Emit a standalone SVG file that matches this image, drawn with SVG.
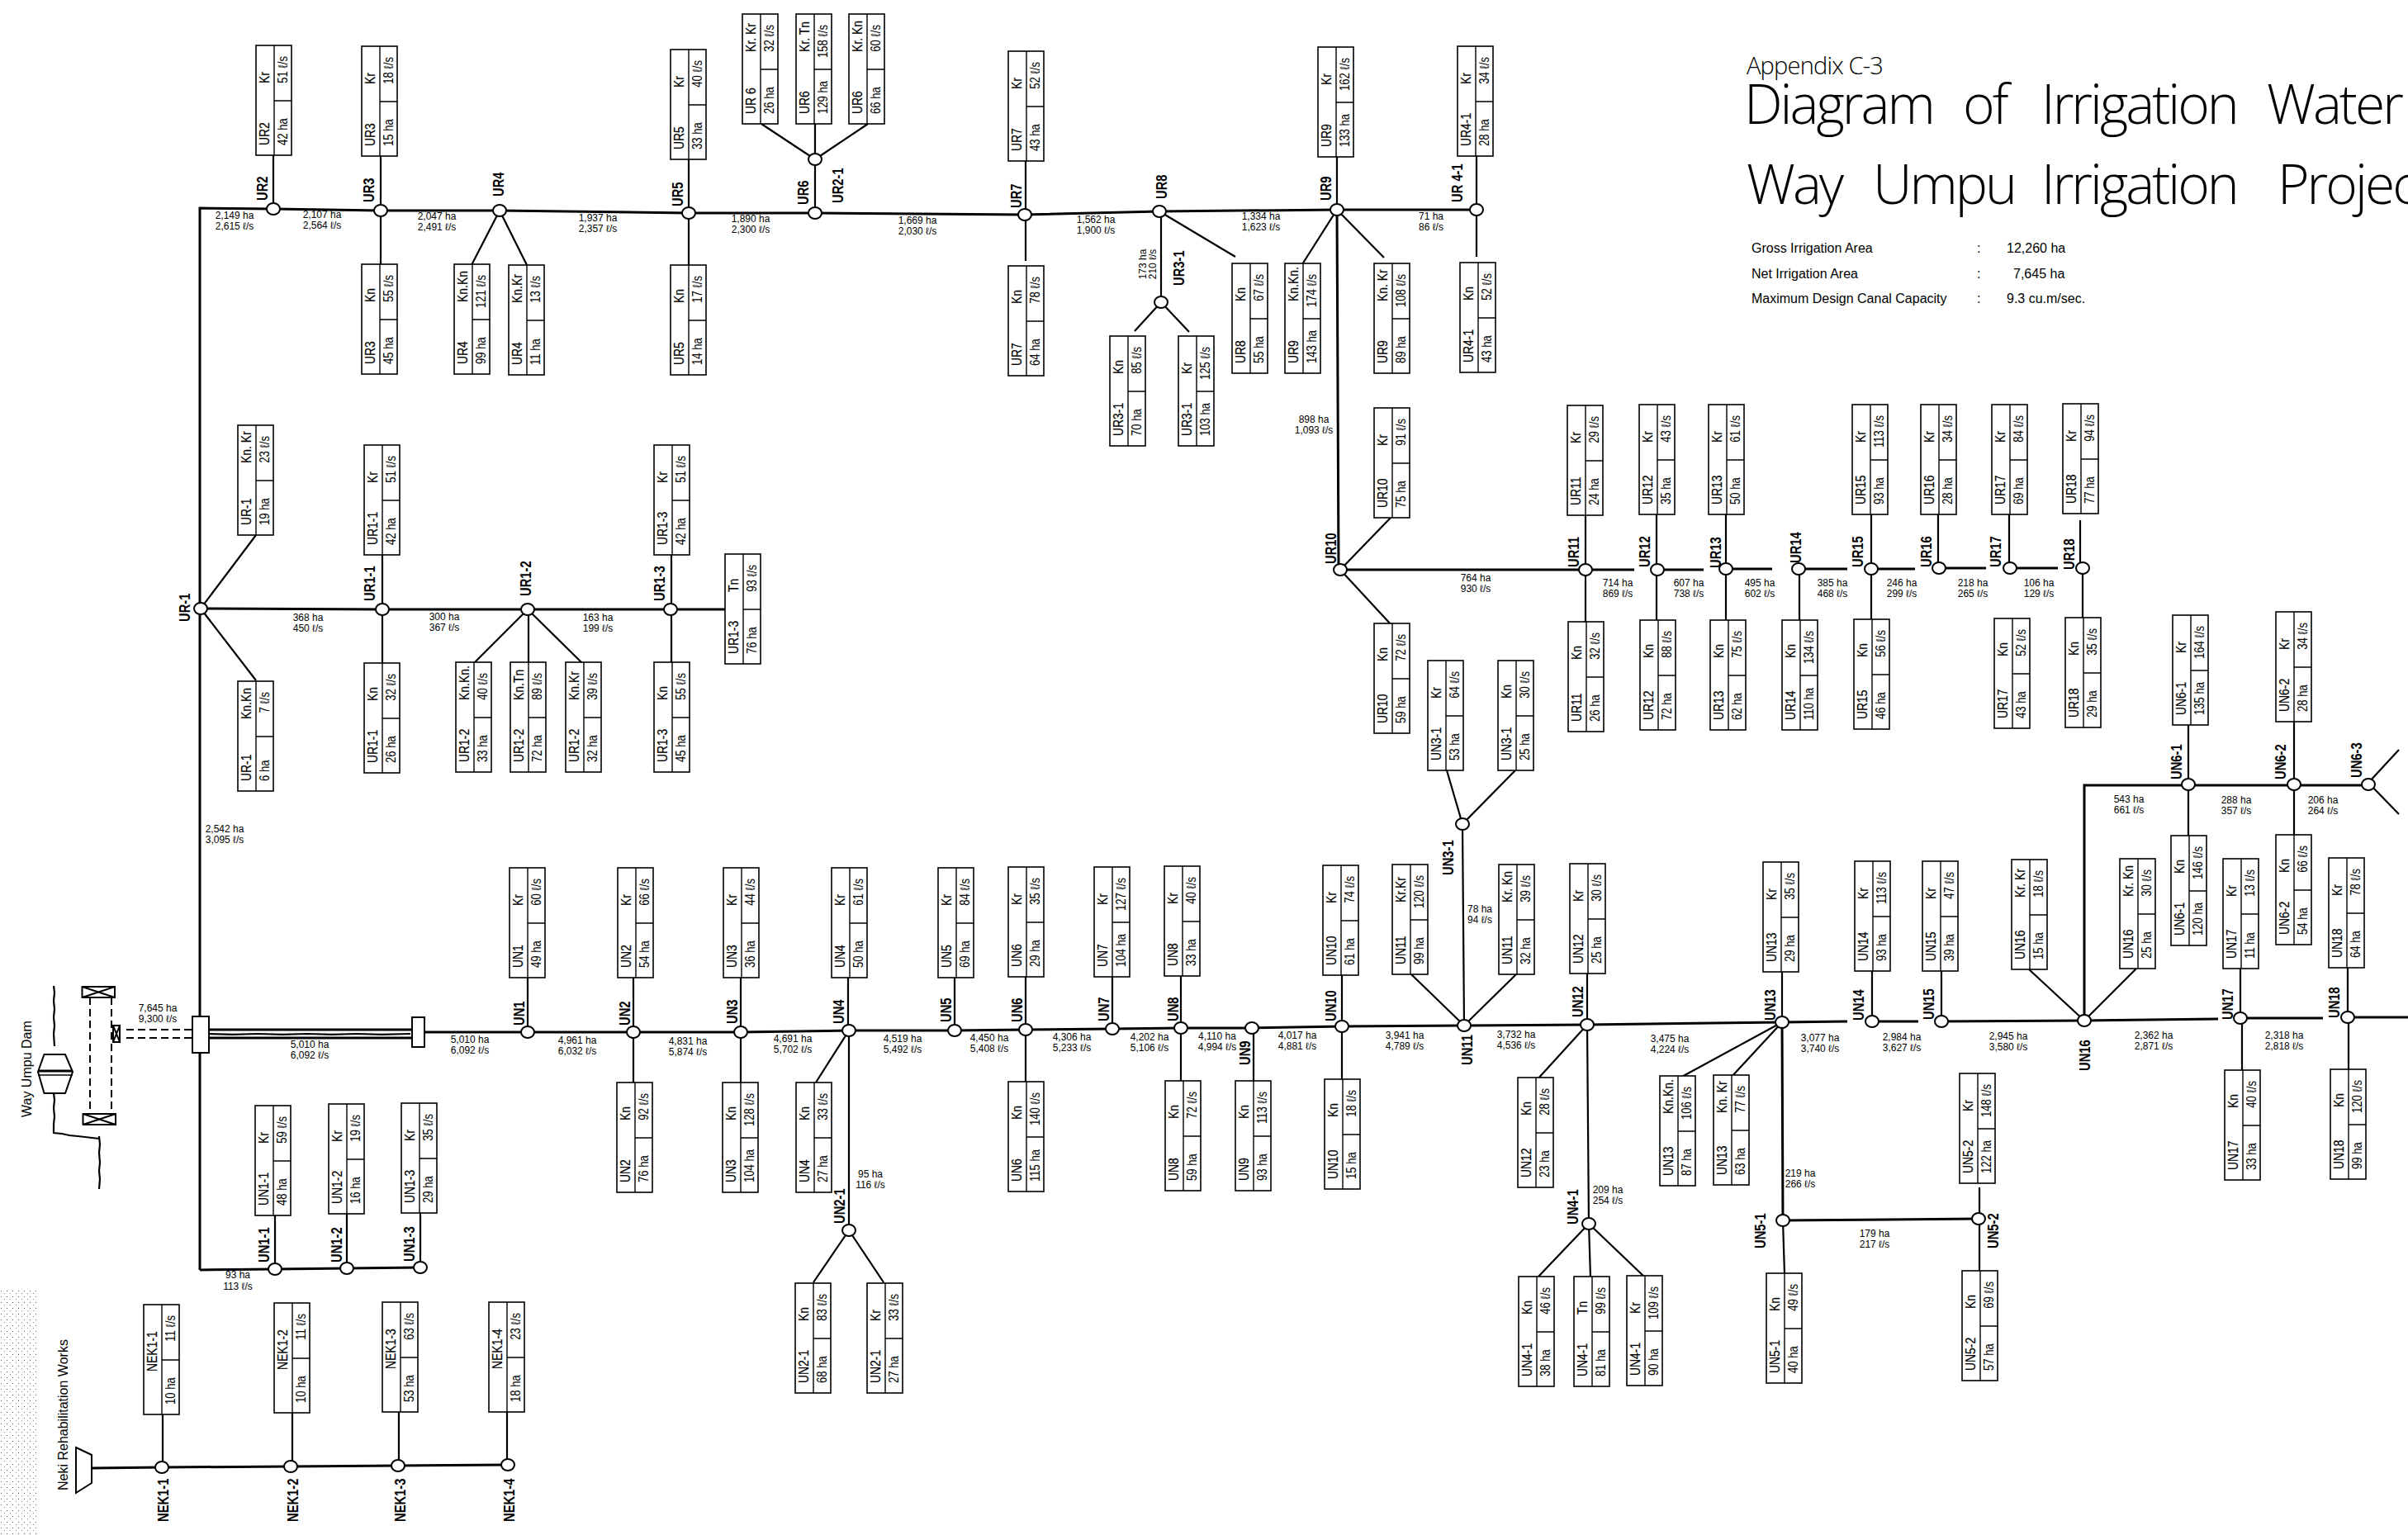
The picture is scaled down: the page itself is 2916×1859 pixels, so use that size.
<svg xmlns="http://www.w3.org/2000/svg" width="2916" height="1859" viewBox="0 0 2916 1859">
<style>
text{font-family:"Liberation Sans",Arial,sans-serif;fill:#000}
.i,.t,.a,.f{transform-box:fill-box;transform:scale(.82,1);transform-origin:0 100%}
.i{font-size:17px;stroke:#000;stroke-width:.2}
.t{font-size:17px;stroke:#000;stroke-width:.2}
.a{font-size:16px}
.f{font-size:16px;text-anchor:end;transform-origin:100% 100%}
.n{font-size:18px;font-weight:700}
.q{font-size:12px;text-anchor:middle}
.s{font-size:16px}
.h{font-family:"Open Sans","Liberation Sans",sans-serif;font-weight:300;letter-spacing:-3px}
.box{fill:#fff;stroke:#000;stroke-width:1.6}
.d{fill:none;stroke:#000;stroke-width:1.4}
.main{fill:none;stroke:#000;stroke-width:3}
.thin{fill:none;stroke:#000;stroke-width:2.2}
.dash{fill:none;stroke:#000;stroke-width:2;stroke-dasharray:9 5}
.st{fill:#fff;stroke:#000;stroke-width:2}
</style>
<defs>
<g id="b"><rect class="box" width="133" height="43"/><path class="d" d="M0 22H133M66 22V43"/></g>
<ellipse id="o" class="st" rx="8" ry="7"/>
<pattern id="sp" width="7" height="7" patternUnits="userSpaceOnUse"><rect x="1" y="2" width="1" height="1" fill="#555"/><rect x="5" y="5" width="1" height="1" fill="#888"/></pattern>
</defs>
<rect width="2916" height="1859" fill="#fff"/>
<rect id="scan-speckle" y="1560" width="45" height="299" fill="url(#sp)"/>

<g id="connectors">
<path class="main" d="M242 1538V252L331 253L461 255L605 255L834 258L987 258L1241 260L1404 256L1619 254L1788 254"/>
<path class="main" d="M243 737L463 738L639 738L812 738L878 738"/>
<path class="main" d="M514 1250L639 1250L767 1250L897 1250L1028 1248L1156 1248L1242 1247L1347 1246L1430 1245L1516 1245L1625 1243L1773 1242L1922 1241L2158 1238L2237 1237M2267 1237H2323M2351 1237L2524 1236L2686 1234M2713 1233H2813M2843 1232H2916"/>
<path class="main" d="M1619 254L1621 690L1979 690M2007 690H2063M2090 689H2146M2178 689H2237M2266 689H2319M2348 688H2405M2434 688H2492"/>
<path class="main" d="M2524 1236V951H2868"/>
<path class="main" d="M2158 1238L2159 1478L2396 1476"/>
<path class="main" d="M242 1538L333 1537L420 1536L509 1535"/>
<path class="main" d="M111 1778L196 1777L352 1776L482 1775L615 1774"/>
<path class="main" d="M252 1247H499M252 1257H499"/>
<path class="thin" d="M252 1252l30 .8 30-.8 30 .8 30-.8 30 .8 30-.8 30 .8 35-.8" stroke-width="1.2"/>
<path class="thin" d="M1771 998L1773 1242M1922 1241L1924 1482M1028 1248V1490"/>
<path class="thin" d="M331 188V253M461 189V321M605 255L571 321M605 255L638 321M834 193V322M987 258V150M987 193L922 150M987 193L1051 150M1242 195V316M1406 256V366M1406 366L1374 401M1406 366L1440 402M1404 256L1496 311M1619 190V254M1619 254L1577 320M1619 254L1676 312M1788 189V311"/>
<path class="thin" d="M243 737L310 648M243 737L310 824M463 672V803M639 738L574 803M640 738V803M639 738L705 803M813 672V803"/>
<path class="thin" d="M1623 690L1684 627M1623 690L1685 757M1920 624V755M2006 623V755M2090 623V755M2179 689V755M2266 623V753M2347 623V688M2433 623V688M2519 630V688M2522 688V750M1771 998L1752 933M1771 998L1835 933"/>
<path class="thin" d="M639 1184V1250M767 1184V1313M897 1184V1313M1027 1184V1248M1028 1248L986 1314M1028 1490L985 1553M1028 1490L1070 1553M1156 1184V1248M1242 1183V1311M1347 1183V1246M1430 1182V1312M1518 1245V1310M1625 1181V1309M1773 1242L1709 1180M1773 1242L1836 1180M1922 1179V1241M1922 1241L1861 1308M1924 1482L1862 1547M1924 1482L1926 1547M1924 1482L1992 1547"/>
<path class="thin" d="M2158 1177V1238M2158 1238L2033 1306M2158 1238L2096 1305M2159 1478L2161 1543M2397 1438V1541M2267 1176V1237M2351 1176V1237M2457 1174L2524 1236L2587 1173M2713 1173V1233M2715 1233V1300M2843 1172V1232M2844 1232V1300M2650 878V1012M2778 874V1012M2868 948L2905 908M2868 948L2905 986"/>
<path class="thin" d="M333 1472V1537M420 1470V1536M509 1469V1535M197 1713V1777M354 1711V1776M483 1710V1775M614 1710V1774"/>
<path class="dash" d="M153 1247H232M153 1257H232M109 1208V1349M135 1208V1349"/>
</g>

<g id="dam">
<path class="thin" d="M65 1194l1 8-1 10 1 10-1 10 1 10-1 10 1 15M65 1324l1 8-1 10 1 10-1 10 0 10l10 1 9 2 10 1 9 1 17 2M120 1376l1 10-1 10 1 12-1 10 1 10-1 12"/>
<path class="st" d="M53.500 1277H79L88 1298L79 1324H53.500L46 1298Z"/>
<path class="main" d="M46 1297H88"/><path class="d" d="M46 1302H88"/>
<path class="st" d="M99.500 1195H139V1208H99.500ZM99.500 1195L139 1208M139 1195L99.500 1208"/>
<path class="st" d="M100.500 1349H140V1362H100.500ZM100.500 1349L140 1362M140 1349L100.500 1362"/>
<path class="st" d="M137 1242H145V1262H137ZM137 1242L145 1262M145 1242L137 1262"/>
<text class="s" transform="translate(38 1353) rotate(-90)">Way Umpu Dam</text>
</g>
<g id="s1"><rect class="st" x="233" y="1231" width="20" height="44"/></g>
<g id="s2"><rect class="st" x="499" y="1232" width="15" height="36"/></g>
<g id="neki">
<path class="st" d="M92 1753L111 1762V1796L92 1808Z"/>
<text class="s" transform="translate(82 1805) rotate(-90)">Neki Rehabilitation Works</text>
</g>

<g id="title">
<text class="h" x="2115" y="90" font-size="29" style="letter-spacing:-.8px">Appendix C-3</text>
<text class="h" y="150" font-size="66"><tspan x="2112">Diagram</tspan> <tspan x="2377">of</tspan> <tspan x="2472">Irrigation</tspan> <tspan x="2745">Water</tspan></text>
<text class="h" y="247" font-size="66"><tspan x="2115">Way</tspan> <tspan x="2268">Umpu</tspan> <tspan x="2472">Irrigation</tspan> <tspan x="2758">Project</tspan></text>
<text class="s" x="2121" y="306">Gross Irrigation Area</text><text class="s" x="2394" y="306">:</text><text class="s" x="2430" y="306">12,260 ha</text>
<text class="s" x="2121" y="337">Net Irrigation Area</text><text class="s" x="2394" y="337">:</text><text class="s" x="2438" y="337">7,645 ha</text>
<text class="s" x="2121" y="367">Maximum Design Canal Capacity</text><text class="s" x="2394" y="367">:</text><text class="s" x="2430" y="367">9.3 cu.m/sec.</text>
</g>

<g id="flows">
<text class="q" x="284" y="265"><tspan x="284">2,149 ha</tspan><tspan x="284" dy="12.500">2,615 ℓ/s</tspan></text>
<text class="q" y="264"><tspan x="390">2,107 ha</tspan><tspan x="390" dy="12.500">2,564 ℓ/s</tspan></text>
<text class="q" y="266"><tspan x="529">2,047 ha</tspan><tspan x="529" dy="12.500">2,491 ℓ/s</tspan></text>
<text class="q" y="268"><tspan x="724">1,937 ha</tspan><tspan x="724" dy="12.500">2,357 ℓ/s</tspan></text>
<text class="q" y="269"><tspan x="909">1,890 ha</tspan><tspan x="909" dy="12.500">2,300 ℓ/s</tspan></text>
<text class="q" y="271"><tspan x="1111">1,669 ha</tspan><tspan x="1111" dy="12.500">2,030 ℓ/s</tspan></text>
<text class="q" y="270"><tspan x="1327">1,562 ha</tspan><tspan x="1327" dy="12.500">1,900 ℓ/s</tspan></text>
<text class="q" y="266"><tspan x="1527">1,334 ha</tspan><tspan x="1527" dy="12.500">1,623 ℓ/s</tspan></text>
<text class="q" y="266"><tspan x="1733">71 ha</tspan><tspan x="1733" dy="12.500">86 ℓ/s</tspan></text>
<text class="q" transform="translate(1388 320) rotate(-90)"><tspan x="0">173 ha</tspan><tspan x="0" dy="12">210 ℓ/s</tspan></text>
<text class="q" y="512"><tspan x="1591">898 ha</tspan><tspan x="1591" dy="12.500">1,093 ℓ/s</tspan></text>
<text class="q" y="1008"><tspan x="272">2,542 ha</tspan><tspan x="272" dy="13">3,095 ℓ/s</tspan></text>
<text class="q" y="752"><tspan x="373">368 ha</tspan><tspan x="373" dy="12.500">450 ℓ/s</tspan></text>
<text class="q" y="751"><tspan x="538">300 ha</tspan><tspan x="538" dy="12.500">367 ℓ/s</tspan></text>
<text class="q" y="752"><tspan x="724">163 ha</tspan><tspan x="724" dy="12.500">199 ℓ/s</tspan></text>
<text class="q" y="704"><tspan x="1787">764 ha</tspan><tspan x="1787" dy="12.500">930 ℓ/s</tspan></text>
<text class="q" y="710"><tspan x="1959">714 ha</tspan><tspan x="1959" dy="12.500">869 ℓ/s</tspan></text>
<text class="q" y="710"><tspan x="2045">607 ha</tspan><tspan x="2045" dy="12.500">738 ℓ/s</tspan></text>
<text class="q" y="710"><tspan x="2131">495 ha</tspan><tspan x="2131" dy="12.500">602 ℓ/s</tspan></text>
<text class="q" y="710"><tspan x="2219">385 ha</tspan><tspan x="2219" dy="12.500">468 ℓ/s</tspan></text>
<text class="q" y="710"><tspan x="2303">246 ha</tspan><tspan x="2303" dy="12.500">299 ℓ/s</tspan></text>
<text class="q" y="710"><tspan x="2389">218 ha</tspan><tspan x="2389" dy="12.500">265 ℓ/s</tspan></text>
<text class="q" y="710"><tspan x="2469">106 ha</tspan><tspan x="2469" dy="12.500">129 ℓ/s</tspan></text>
<text class="q" y="972"><tspan x="2578">543 ha</tspan><tspan x="2578" dy="12.500">661 ℓ/s</tspan></text>
<text class="q" y="973"><tspan x="2708">288 ha</tspan><tspan x="2708" dy="12.500">357 ℓ/s</tspan></text>
<text class="q" y="973"><tspan x="2813">206 ha</tspan><tspan x="2813" dy="12.500">264 ℓ/s</tspan></text>
<text class="q" y="1225"><tspan x="191">7,645 ha</tspan><tspan x="191" dy="12.500">9,300 ℓ/s</tspan></text>
<text class="q" y="1269"><tspan x="375">5,010 ha</tspan><tspan x="375" dy="12.500">6,092 ℓ/s</tspan></text>
<text class="q" y="1263"><tspan x="569">5,010 ha</tspan><tspan x="569" dy="12.500">6,092 ℓ/s</tspan></text>
<text class="q" y="1264"><tspan x="699">4,961 ha</tspan><tspan x="699" dy="12.500">6,032 ℓ/s</tspan></text>
<text class="q" y="1265"><tspan x="833">4,831 ha</tspan><tspan x="833" dy="12.500">5,874 ℓ/s</tspan></text>
<text class="q" y="1262"><tspan x="960">4,691 ha</tspan><tspan x="960" dy="12.500">5,702 ℓ/s</tspan></text>
<text class="q" y="1262"><tspan x="1093">4,519 ha</tspan><tspan x="1093" dy="12.500">5,492 ℓ/s</tspan></text>
<text class="q" y="1261"><tspan x="1198">4,450 ha</tspan><tspan x="1198" dy="12.500">5,408 ℓ/s</tspan></text>
<text class="q" y="1260"><tspan x="1298">4,306 ha</tspan><tspan x="1298" dy="12.500">5,233 ℓ/s</tspan></text>
<text class="q" y="1260"><tspan x="1392">4,202 ha</tspan><tspan x="1392" dy="12.500">5,106 ℓ/s</tspan></text>
<text class="q" y="1259"><tspan x="1474">4,110 ha</tspan><tspan x="1474" dy="12.500">4,994 ℓ/s</tspan></text>
<text class="q" y="1258"><tspan x="1571">4,017 ha</tspan><tspan x="1571" dy="12.500">4,881 ℓ/s</tspan></text>
<text class="q" y="1258"><tspan x="1701">3,941 ha</tspan><tspan x="1701" dy="12.500">4,789 ℓ/s</tspan></text>
<text class="q" y="1257"><tspan x="1836">3,732 ha</tspan><tspan x="1836" dy="12.500">4,536 ℓ/s</tspan></text>
<text class="q" y="1262"><tspan x="2022">3,475 ha</tspan><tspan x="2022" dy="12.500">4,224 ℓ/s</tspan></text>
<text class="q" y="1261"><tspan x="2204">3,077 ha</tspan><tspan x="2204" dy="12.500">3,740 ℓ/s</tspan></text>
<text class="q" y="1260"><tspan x="2303">2,984 ha</tspan><tspan x="2303" dy="12.500">3,627 ℓ/s</tspan></text>
<text class="q" y="1259"><tspan x="2432">2,945 ha</tspan><tspan x="2432" dy="12.500">3,580 ℓ/s</tspan></text>
<text class="q" y="1258"><tspan x="2608">2,362 ha</tspan><tspan x="2608" dy="12.500">2,871 ℓ/s</tspan></text>
<text class="q" y="1258"><tspan x="2766">2,318 ha</tspan><tspan x="2766" dy="12.500">2,818 ℓ/s</tspan></text>
<text class="q" y="1105"><tspan x="1792">78 ha</tspan><tspan x="1792" dy="12.500">94 ℓ/s</tspan></text>
<text class="q" y="1426"><tspan x="1054">95 ha</tspan><tspan x="1054" dy="12.500">116 ℓ/s</tspan></text>
<text class="q" y="1445"><tspan x="1947">209 ha</tspan><tspan x="1947" dy="12.500">254 ℓ/s</tspan></text>
<text class="q" y="1425"><tspan x="2180">219 ha</tspan><tspan x="2180" dy="12.500">266 ℓ/s</tspan></text>
<text class="q" y="1498"><tspan x="2270">179 ha</tspan><tspan x="2270" dy="12.500">217 ℓ/s</tspan></text>
<text class="q" y="1548"><tspan x="288">93 ha</tspan><tspan x="288" dy="14">113 ℓ/s</tspan></text>
</g>

<g id="n-UR2"><use href="#o" x="331" y="253"/><text class="n" transform="translate(324 243) rotate(-90) scale(.82 1)">UR2</text></g>
<g id="n-UR3"><use href="#o" x="461" y="255"/><text class="n" transform="translate(453 245) rotate(-90) scale(.82 1)">UR3</text></g>
<g id="n-UR4"><use href="#o" x="605" y="255"/><text class="n" transform="translate(610 238) rotate(-90) scale(.82 1)">UR4</text></g>
<g id="n-UR5"><use href="#o" x="834" y="258"/><text class="n" transform="translate(827 250) rotate(-90) scale(.82 1)">UR5</text></g>
<g id="n-UR6"><use href="#o" x="987" y="258"/><text class="n" transform="translate(979 248) rotate(-90) scale(.82 1)">UR6</text></g>
<g id="n-UR2-1"><use href="#o" x="987" y="193"/><text class="n" transform="translate(1021 246) rotate(-90) scale(.82 1)">UR2-1</text></g>
<g id="n-UR7"><use href="#o" x="1241" y="260"/><text class="n" transform="translate(1237 252) rotate(-90) scale(.82 1)">UR7</text></g>
<g id="n-UR8"><use href="#o" x="1404" y="256"/><text class="n" transform="translate(1413 241) rotate(-90) scale(.82 1)">UR8</text></g>
<g id="n-UR3-1"><use href="#o" x="1406" y="366"/><text class="n" transform="translate(1434 346) rotate(-90) scale(.82 1)">UR3-1</text></g>
<g id="n-UR9"><use href="#o" x="1619" y="254"/><text class="n" transform="translate(1612 243) rotate(-90) scale(.82 1)">UR9</text></g>
<g id="n-UR4-1"><use href="#o" x="1788" y="254"/><text class="n" transform="translate(1771 245) rotate(-90) scale(.82 1)">UR 4-1</text></g>
<g id="n-UR-1"><use href="#o" x="243" y="737"/><text class="n" transform="translate(230 753) rotate(-90) scale(.82 1)">UR-1</text></g>
<g id="n-UR1-1"><use href="#o" x="463" y="738"/><text class="n" transform="translate(454 728) rotate(-90) scale(.82 1)">UR1-1</text></g>
<g id="n-UR1-2"><use href="#o" x="639" y="738"/><text class="n" transform="translate(643 722) rotate(-90) scale(.82 1)">UR1-2</text></g>
<g id="n-UR1-3"><use href="#o" x="812" y="738"/><text class="n" transform="translate(805 728) rotate(-90) scale(.82 1)">UR1-3</text></g>
<g id="n-UR10"><use href="#o" x="1623" y="690"/><text class="n" transform="translate(1618 683) rotate(-90) scale(.82 1)">UR10</text></g>
<g id="n-UR11"><use href="#o" x="1920" y="690"/><text class="n" transform="translate(1912 687) rotate(-90) scale(.82 1)">UR11</text></g>
<g id="n-UR12"><use href="#o" x="2007" y="690"/><text class="n" transform="translate(1998 687) rotate(-90) scale(.82 1)">UR12</text></g>
<g id="n-UR13"><use href="#o" x="2090" y="689"/><text class="n" transform="translate(2084 688) rotate(-90) scale(.82 1)">UR13</text></g>
<g id="n-UR14"><use href="#o" x="2178" y="689"/><text class="n" transform="translate(2181 682) rotate(-90) scale(.82 1)">UR14</text></g>
<g id="n-UR15"><use href="#o" x="2266" y="689"/><text class="n" transform="translate(2256 687) rotate(-90) scale(.82 1)">UR15</text></g>
<g id="n-UR16"><use href="#o" x="2348" y="688"/><text class="n" transform="translate(2339 687) rotate(-90) scale(.82 1)">UR16</text></g>
<g id="n-UR17"><use href="#o" x="2434" y="688"/><text class="n" transform="translate(2423 687) rotate(-90) scale(.82 1)">UR17</text></g>
<g id="n-UR18"><use href="#o" x="2522" y="688"/><text class="n" transform="translate(2512 690) rotate(-90) scale(.82 1)">UR18</text></g>
<g id="n-UN3-1"><use href="#o" x="1771" y="998"/><text class="n" transform="translate(1760 1060) rotate(-90) scale(.82 1)">UN3-1</text></g>
<g id="n-UN1"><use href="#o" x="639" y="1250"/><text class="n" transform="translate(635 1242) rotate(-90) scale(.82 1)">UN1</text></g>
<g id="n-UN2"><use href="#o" x="767" y="1250"/><text class="n" transform="translate(763 1242) rotate(-90) scale(.82 1)">UN2</text></g>
<g id="n-UN3"><use href="#o" x="897" y="1250"/><text class="n" transform="translate(893 1240) rotate(-90) scale(.82 1)">UN3</text></g>
<g id="n-UN4"><use href="#o" x="1028" y="1248"/><text class="n" transform="translate(1022 1240) rotate(-90) scale(.82 1)">UN4</text></g>
<g id="n-UN5"><use href="#o" x="1156" y="1248"/><text class="n" transform="translate(1152 1238) rotate(-90) scale(.82 1)">UN5</text></g>
<g id="n-UN6"><use href="#o" x="1242" y="1247"/><text class="n" transform="translate(1238 1238) rotate(-90) scale(.82 1)">UN6</text></g>
<g id="n-UN7"><use href="#o" x="1347" y="1246"/><text class="n" transform="translate(1343 1237) rotate(-90) scale(.82 1)">UN7</text></g>
<g id="n-UN8"><use href="#o" x="1430" y="1245"/><text class="n" transform="translate(1427 1237) rotate(-90) scale(.82 1)">UN8</text></g>
<g id="n-UN9"><use href="#o" x="1516" y="1245"/><text class="n" transform="translate(1514 1290) rotate(-90) scale(.82 1)">UN9</text></g>
<g id="n-UN10"><use href="#o" x="1625" y="1243"/><text class="n" transform="translate(1618 1237) rotate(-90) scale(.82 1)">UN10</text></g>
<g id="n-UN11"><use href="#o" x="1773" y="1242"/><text class="n" transform="translate(1783 1290) rotate(-90) scale(.82 1)">UN11</text></g>
<g id="n-UN12"><use href="#o" x="1922" y="1241"/><text class="n" transform="translate(1917 1232) rotate(-90) scale(.82 1)">UN12</text></g>
<g id="n-UN13"><use href="#o" x="2158" y="1238"/><text class="n" transform="translate(2150 1236) rotate(-90) scale(.82 1)">UN13</text></g>
<g id="n-UN14"><use href="#o" x="2267" y="1237"/><text class="n" transform="translate(2257 1236) rotate(-90) scale(.82 1)">UN14</text></g>
<g id="n-UN15"><use href="#o" x="2351" y="1237"/><text class="n" transform="translate(2342 1235) rotate(-90) scale(.82 1)">UN15</text></g>
<g id="n-UN16"><use href="#o" x="2524" y="1236"/><text class="n" transform="translate(2531 1297) rotate(-90) scale(.82 1)">UN16</text></g>
<g id="n-UN17"><use href="#o" x="2713" y="1233"/><text class="n" transform="translate(2704 1235) rotate(-90) scale(.82 1)">UN17</text></g>
<g id="n-UN18"><use href="#o" x="2843" y="1232"/><text class="n" transform="translate(2833 1233) rotate(-90) scale(.82 1)">UN18</text></g>
<g id="n-UN2-1"><use href="#o" x="1028" y="1490"/><text class="n" transform="translate(1023 1482) rotate(-90) scale(.82 1)">UN2-1</text></g>
<g id="n-UN4-1"><use href="#o" x="1924" y="1482"/><text class="n" transform="translate(1911 1483) rotate(-90) scale(.82 1)">UN4-1</text></g>
<g id="n-UN5-1"><use href="#o" x="2159" y="1478"/><text class="n" transform="translate(2138 1512) rotate(-90) scale(.82 1)">UN5-1</text></g>
<g id="n-UN5-2"><use href="#o" x="2396" y="1476"/><text class="n" transform="translate(2420 1512) rotate(-90) scale(.82 1)">UN5-2</text></g>
<g id="n-UN6-1"><use href="#o" x="2650" y="950"/><text class="n" transform="translate(2642 944) rotate(-90) scale(.82 1)">UN6-1</text></g>
<g id="n-UN6-2"><use href="#o" x="2778" y="950"/><text class="n" transform="translate(2768 944) rotate(-90) scale(.82 1)">UN6-2</text></g>
<g id="n-UN6-3"><use href="#o" x="2868" y="950"/><text class="n" transform="translate(2860 942) rotate(-90) scale(.82 1)">UN6-3</text></g>
<g id="n-UN1-1"><use href="#o" x="333" y="1537"/><text class="n" transform="translate(326 1529) rotate(-90) scale(.82 1)">UN1-1</text></g>
<g id="n-UN1-2"><use href="#o" x="420" y="1536"/><text class="n" transform="translate(414 1529) rotate(-90) scale(.82 1)">UN1-2</text></g>
<g id="n-UN1-3"><use href="#o" x="509" y="1535"/><text class="n" transform="translate(502 1528) rotate(-90) scale(.82 1)">UN1-3</text></g>
<g id="n-NEK1-1"><use href="#o" x="196" y="1777"/><text class="n" transform="translate(204 1843) rotate(-90) scale(.82 1)">NEK1-1</text></g>
<g id="n-NEK1-2"><use href="#o" x="352" y="1776"/><text class="n" transform="translate(361 1843) rotate(-90) scale(.82 1)">NEK1-2</text></g>
<g id="n-NEK1-3"><use href="#o" x="482" y="1775"/><text class="n" transform="translate(491 1843) rotate(-90) scale(.82 1)">NEK1-3</text></g>
<g id="n-NEK1-4"><use href="#o" x="615" y="1774"/><text class="n" transform="translate(623 1843) rotate(-90) scale(.82 1)">NEK1-4</text></g>

<g id="b1" transform="translate(310 188) rotate(-90)"><use href="#b"/><text class="i" x="12" y="16">UR2</text><text class="t" x="87" y="16">Kr</text><text class="a" x="12" y="38">42 ha</text><text class="f" x="120" y="38">51 ℓ/s</text></g>
<g id="b2" transform="translate(438 189) rotate(-90)"><use href="#b"/><text class="i" x="12" y="16">UR3</text><text class="t" x="87" y="16">Kr</text><text class="a" x="12" y="38">15 ha</text><text class="f" x="120" y="38">18 ℓ/s</text></g>
<g id="b3" transform="translate(438 453) rotate(-90)"><use href="#b"/><text class="i" x="12" y="16">UR3</text><text class="t" x="87" y="16">Kn</text><text class="a" x="12" y="38">45 ha</text><text class="f" x="120" y="38">55 ℓ/s</text></g>
<g id="b4" transform="translate(550 453) rotate(-90)"><use href="#b"/><text class="i" x="12" y="16">UR4</text><text class="t" x="87" y="16">Kn.Kn</text><text class="a" x="12" y="38">99 ha</text><text class="f" x="120" y="38">121 ℓ/s</text></g>
<g id="b5" transform="translate(616 454) rotate(-90)"><use href="#b"/><text class="i" x="12" y="16">UR4</text><text class="t" x="87" y="16">Kn.Kr</text><text class="a" x="12" y="38">11 ha</text><text class="f" x="120" y="38">13 ℓ/s</text></g>
<g id="b6" transform="translate(812 193) rotate(-90)"><use href="#b"/><text class="i" x="12" y="16">UR5</text><text class="t" x="87" y="16">Kr</text><text class="a" x="12" y="38">33 ha</text><text class="f" x="120" y="38">40 ℓ/s</text></g>
<g id="b7" transform="translate(812 454) rotate(-90)"><use href="#b"/><text class="i" x="12" y="16">UR5</text><text class="t" x="87" y="16">Kn</text><text class="a" x="12" y="38">14 ha</text><text class="f" x="120" y="38">17 ℓ/s</text></g>
<g id="b8" transform="translate(899 150) rotate(-90)"><use href="#b"/><text class="i" x="12" y="16">UR 6</text><text class="t" x="87" y="16">Kr. Kr</text><text class="a" x="12" y="38">26 ha</text><text class="f" x="120" y="38">32 ℓ/s</text></g>
<g id="b9" transform="translate(964 150) rotate(-90)"><use href="#b"/><text class="i" x="12" y="16">UR6</text><text class="t" x="87" y="16">Kr. Tn</text><text class="a" x="12" y="38">129 ha</text><text class="f" x="120" y="38">158 ℓ/s</text></g>
<g id="b10" transform="translate(1028 150) rotate(-90)"><use href="#b"/><text class="i" x="12" y="16">UR6</text><text class="t" x="87" y="16">Kr. Kn</text><text class="a" x="12" y="38">66 ha</text><text class="f" x="120" y="38">60 ℓ/s</text></g>
<g id="b11" transform="translate(1221 195) rotate(-90)"><use href="#b"/><text class="i" x="12" y="16">UR7</text><text class="t" x="87" y="16">Kr</text><text class="a" x="12" y="38">43 ha</text><text class="f" x="120" y="38">52 ℓ/s</text></g>
<g id="b12" transform="translate(1221 455) rotate(-90)"><use href="#b"/><text class="i" x="12" y="16">UR7</text><text class="t" x="87" y="16">Kn</text><text class="a" x="12" y="38">64 ha</text><text class="f" x="120" y="38">78 ℓ/s</text></g>
<g id="b13" transform="translate(1344 540) rotate(-90)"><use href="#b"/><text class="i" x="12" y="16">UR3-1</text><text class="t" x="87" y="16">Kn</text><text class="a" x="12" y="38">70 ha</text><text class="f" x="120" y="38">85 ℓ/s</text></g>
<g id="b14" transform="translate(1427 540) rotate(-90)"><use href="#b"/><text class="i" x="12" y="16">UR3-1</text><text class="t" x="87" y="16">Kr</text><text class="a" x="12" y="38">103 ha</text><text class="f" x="120" y="38">125 ℓ/s</text></g>
<g id="b15" transform="translate(1492 452) rotate(-90)"><use href="#b"/><text class="i" x="12" y="16">UR8</text><text class="t" x="87" y="16">Kn</text><text class="a" x="12" y="38">55 ha</text><text class="f" x="120" y="38">67 ℓ/s</text></g>
<g id="b16" transform="translate(1556 452) rotate(-90)"><use href="#b"/><text class="i" x="12" y="16">UR9</text><text class="t" x="87" y="16">Kn.Kn.</text><text class="a" x="12" y="38">143 ha</text><text class="f" x="120" y="38">174 ℓ/s</text></g>
<g id="b17" transform="translate(1664 452) rotate(-90)"><use href="#b"/><text class="i" x="12" y="16">UR9</text><text class="t" x="87" y="16">Kn. Kr</text><text class="a" x="12" y="38">89 ha</text><text class="f" x="120" y="38">108 ℓ/s</text></g>
<g id="b18" transform="translate(1596 190) rotate(-90)"><use href="#b"/><text class="i" x="12" y="16">UR9</text><text class="t" x="87" y="16">Kr</text><text class="a" x="12" y="38">133 ha</text><text class="f" x="120" y="38">162 ℓ/s</text></g>
<g id="b19" transform="translate(1765 189) rotate(-90)"><use href="#b"/><text class="i" x="12" y="16">UR4-1</text><text class="t" x="87" y="16">Kr</text><text class="a" x="12" y="38">28 ha</text><text class="f" x="120" y="38">34 ℓ/s</text></g>
<g id="b20" transform="translate(1768 451) rotate(-90)"><use href="#b"/><text class="i" x="12" y="16">UR4-1</text><text class="t" x="87" y="16">Kn</text><text class="a" x="12" y="38">43 ha</text><text class="f" x="120" y="38">52 ℓ/s</text></g>
<g id="b21" transform="translate(288 648) rotate(-90)"><use href="#b"/><text class="i" x="12" y="16">UR-1</text><text class="t" x="87" y="16">Kn. Kr</text><text class="a" x="12" y="38">19 ha</text><text class="f" x="120" y="38">23 ℓ/s</text></g>
<g id="b22" transform="translate(288 958) rotate(-90)"><use href="#b"/><text class="i" x="12" y="16">UR-1</text><text class="t" x="87" y="16">Kn.Kn</text><text class="a" x="12" y="38">6 ha</text><text class="f" x="120" y="38">7 ℓ/s</text></g>
<g id="b23" transform="translate(441 672) rotate(-90)"><use href="#b"/><text class="i" x="12" y="16">UR1-1</text><text class="t" x="87" y="16">Kr</text><text class="a" x="12" y="38">42 ha</text><text class="f" x="120" y="38">51 ℓ/s</text></g>
<g id="b24" transform="translate(441 936) rotate(-90)"><use href="#b"/><text class="i" x="12" y="16">UR1-1</text><text class="t" x="87" y="16">Kn</text><text class="a" x="12" y="38">26 ha</text><text class="f" x="120" y="38">32 ℓ/s</text></g>
<g id="b25" transform="translate(552 935) rotate(-90)"><use href="#b"/><text class="i" x="12" y="16">UR1-2</text><text class="t" x="87" y="16">Kn.Kn.</text><text class="a" x="12" y="38">33 ha</text><text class="f" x="120" y="38">40 ℓ/s</text></g>
<g id="b26" transform="translate(618 935) rotate(-90)"><use href="#b"/><text class="i" x="12" y="16">UR1-2</text><text class="t" x="87" y="16">Kn.Tn</text><text class="a" x="12" y="38">72 ha</text><text class="f" x="120" y="38">89 ℓ/s</text></g>
<g id="b27" transform="translate(685 935) rotate(-90)"><use href="#b"/><text class="i" x="12" y="16">UR1-2</text><text class="t" x="87" y="16">Kn.Kr</text><text class="a" x="12" y="38">32 ha</text><text class="f" x="120" y="38">39 ℓ/s</text></g>
<g id="b28" transform="translate(792 672) rotate(-90)"><use href="#b"/><text class="i" x="12" y="16">UR1-3</text><text class="t" x="87" y="16">Kr</text><text class="a" x="12" y="38">42 ha</text><text class="f" x="120" y="38">51 ℓ/s</text></g>
<g id="b29" transform="translate(792 935) rotate(-90)"><use href="#b"/><text class="i" x="12" y="16">UR1-3</text><text class="t" x="87" y="16">Kn</text><text class="a" x="12" y="38">45 ha</text><text class="f" x="120" y="38">55 ℓ/s</text></g>
<g id="b30" transform="translate(878 804) rotate(-90)"><use href="#b"/><text class="i" x="12" y="16">UR1-3</text><text class="t" x="87" y="16">Tn</text><text class="a" x="12" y="38">76 ha</text><text class="f" x="120" y="38">93 ℓ/s</text></g>
<g id="b31" transform="translate(1664 627) rotate(-90)"><use href="#b"/><text class="i" x="12" y="16">UR10</text><text class="t" x="87" y="16">Kr</text><text class="a" x="12" y="38">75 ha</text><text class="f" x="120" y="38">91 ℓ/s</text></g>
<g id="b32" transform="translate(1664 888) rotate(-90)"><use href="#b"/><text class="i" x="12" y="16">UR10</text><text class="t" x="87" y="16">Kn</text><text class="a" x="12" y="38">59 ha</text><text class="f" x="120" y="38">72 ℓ/s</text></g>
<g id="b33" transform="translate(1729 933) rotate(-90)"><use href="#b"/><text class="i" x="12" y="16">UN3-1</text><text class="t" x="87" y="16">Kr</text><text class="a" x="12" y="38">53 ha</text><text class="f" x="120" y="38">64 ℓ/s</text></g>
<g id="b34" transform="translate(1814 933) rotate(-90)"><use href="#b"/><text class="i" x="12" y="16">UN3-1</text><text class="t" x="87" y="16">Kn</text><text class="a" x="12" y="38">25 ha</text><text class="f" x="120" y="38">30 ℓ/s</text></g>
<g id="b35" transform="translate(1898 624) rotate(-90)"><use href="#b"/><text class="i" x="12" y="16">UR11</text><text class="t" x="87" y="16">Kr</text><text class="a" x="12" y="38">24 ha</text><text class="f" x="120" y="38">29 ℓ/s</text></g>
<g id="b36" transform="translate(1899 886) rotate(-90)"><use href="#b"/><text class="i" x="12" y="16">UR11</text><text class="t" x="87" y="16">Kn</text><text class="a" x="12" y="38">26 ha</text><text class="f" x="120" y="38">32 ℓ/s</text></g>
<g id="b37" transform="translate(1985 623) rotate(-90)"><use href="#b"/><text class="i" x="12" y="16">UR12</text><text class="t" x="87" y="16">Kr</text><text class="a" x="12" y="38">35 ha</text><text class="f" x="120" y="38">43 ℓ/s</text></g>
<g id="b38" transform="translate(1986 884) rotate(-90)"><use href="#b"/><text class="i" x="12" y="16">UR12</text><text class="t" x="87" y="16">Kn</text><text class="a" x="12" y="38">72 ha</text><text class="f" x="120" y="38">88 ℓ/s</text></g>
<g id="b39" transform="translate(2069 623) rotate(-90)"><use href="#b"/><text class="i" x="12" y="16">UR13</text><text class="t" x="87" y="16">Kr</text><text class="a" x="12" y="38">50 ha</text><text class="f" x="120" y="38">61 ℓ/s</text></g>
<g id="b40" transform="translate(2071 884) rotate(-90)"><use href="#b"/><text class="i" x="12" y="16">UR13</text><text class="t" x="87" y="16">Kn</text><text class="a" x="12" y="38">62 ha</text><text class="f" x="120" y="38">75 ℓ/s</text></g>
<g id="b41" transform="translate(2158 884) rotate(-90)"><use href="#b"/><text class="i" x="12" y="16">UR14</text><text class="t" x="87" y="16">Kn</text><text class="a" x="12" y="38">110 ha</text><text class="f" x="120" y="38">134 ℓ/s</text></g>
<g id="b42" transform="translate(2243 623) rotate(-90)"><use href="#b"/><text class="i" x="12" y="16">UR15</text><text class="t" x="87" y="16">Kr</text><text class="a" x="12" y="38">93 ha</text><text class="f" x="120" y="38">113 ℓ/s</text></g>
<g id="b43" transform="translate(2245 883) rotate(-90)"><use href="#b"/><text class="i" x="12" y="16">UR15</text><text class="t" x="87" y="16">Kn</text><text class="a" x="12" y="38">46 ha</text><text class="f" x="120" y="38">56 ℓ/s</text></g>
<g id="b44" transform="translate(2326 623) rotate(-90)"><use href="#b"/><text class="i" x="12" y="16">UR16</text><text class="t" x="87" y="16">Kr</text><text class="a" x="12" y="38">28 ha</text><text class="f" x="120" y="38">34 ℓ/s</text></g>
<g id="b45" transform="translate(2412 623) rotate(-90)"><use href="#b"/><text class="i" x="12" y="16">UR17</text><text class="t" x="87" y="16">Kr</text><text class="a" x="12" y="38">69 ha</text><text class="f" x="120" y="38">84 ℓ/s</text></g>
<g id="b46" transform="translate(2415 882) rotate(-90)"><use href="#b"/><text class="i" x="12" y="16">UR17</text><text class="t" x="87" y="16">Kn</text><text class="a" x="12" y="38">43 ha</text><text class="f" x="120" y="38">52 ℓ/s</text></g>
<g id="b47" transform="translate(2498 622) rotate(-90)"><use href="#b"/><text class="i" x="12" y="16">UR18</text><text class="t" x="87" y="16">Kr</text><text class="a" x="12" y="38">77 ha</text><text class="f" x="120" y="38">94 ℓ/s</text></g>
<g id="b48" transform="translate(2501 881) rotate(-90)"><use href="#b"/><text class="i" x="12" y="16">UR18</text><text class="t" x="87" y="16">Kn</text><text class="a" x="12" y="38">29 ha</text><text class="f" x="120" y="38">35 ℓ/s</text></g>
<g id="b49" transform="translate(617 1184) rotate(-90)"><use href="#b"/><text class="i" x="12" y="16">UN1</text><text class="t" x="87" y="16">Kr</text><text class="a" x="12" y="38">49 ha</text><text class="f" x="120" y="38">60 ℓ/s</text></g>
<g id="b50" transform="translate(748 1184) rotate(-90)"><use href="#b"/><text class="i" x="12" y="16">UN2</text><text class="t" x="87" y="16">Kr</text><text class="a" x="12" y="38">54 ha</text><text class="f" x="120" y="38">66 ℓ/s</text></g>
<g id="b51" transform="translate(747 1444) rotate(-90)"><use href="#b"/><text class="i" x="12" y="16">UN2</text><text class="t" x="87" y="16">Kn</text><text class="a" x="12" y="38">76 ha</text><text class="f" x="120" y="38">92 ℓ/s</text></g>
<g id="b52" transform="translate(876 1184) rotate(-90)"><use href="#b"/><text class="i" x="12" y="16">UN3</text><text class="t" x="87" y="16">Kr</text><text class="a" x="12" y="38">36 ha</text><text class="f" x="120" y="38">44 ℓ/s</text></g>
<g id="b53" transform="translate(875 1444) rotate(-90)"><use href="#b"/><text class="i" x="12" y="16">UN3</text><text class="t" x="87" y="16">Kn</text><text class="a" x="12" y="38">104 ha</text><text class="f" x="120" y="38">128 ℓ/s</text></g>
<g id="b54" transform="translate(1007 1184) rotate(-90)"><use href="#b"/><text class="i" x="12" y="16">UN4</text><text class="t" x="87" y="16">Kr</text><text class="a" x="12" y="38">50 ha</text><text class="f" x="120" y="38">61 ℓ/s</text></g>
<g id="b55" transform="translate(964 1444) rotate(-90)"><use href="#b"/><text class="i" x="12" y="16">UN4</text><text class="t" x="87" y="16">Kn</text><text class="a" x="12" y="38">27 ha</text><text class="f" x="120" y="38">33 ℓ/s</text></g>
<g id="b56" transform="translate(963 1687) rotate(-90)"><use href="#b"/><text class="i" x="12" y="16">UN2-1</text><text class="t" x="87" y="16">Kn</text><text class="a" x="12" y="38">68 ha</text><text class="f" x="120" y="38">83 ℓ/s</text></g>
<g id="b57" transform="translate(1050 1687) rotate(-90)"><use href="#b"/><text class="i" x="12" y="16">UN2-1</text><text class="t" x="87" y="16">Kr</text><text class="a" x="12" y="38">27 ha</text><text class="f" x="120" y="38">33 ℓ/s</text></g>
<g id="b58" transform="translate(1136 1184) rotate(-90)"><use href="#b"/><text class="i" x="12" y="16">UN5</text><text class="t" x="87" y="16">Kr</text><text class="a" x="12" y="38">69 ha</text><text class="f" x="120" y="38">84 ℓ/s</text></g>
<g id="b59" transform="translate(1221 1183) rotate(-90)"><use href="#b"/><text class="i" x="12" y="16">UN6</text><text class="t" x="87" y="16">Kr</text><text class="a" x="12" y="38">29 ha</text><text class="f" x="120" y="38">35 ℓ/s</text></g>
<g id="b60" transform="translate(1221 1443) rotate(-90)"><use href="#b"/><text class="i" x="12" y="16">UN6</text><text class="t" x="87" y="16">Kn</text><text class="a" x="12" y="38">115 ha</text><text class="f" x="120" y="38">140 ℓ/s</text></g>
<g id="b61" transform="translate(1325 1183) rotate(-90)"><use href="#b"/><text class="i" x="12" y="16">UN7</text><text class="t" x="87" y="16">Kr</text><text class="a" x="12" y="38">104 ha</text><text class="f" x="120" y="38">127 ℓ/s</text></g>
<g id="b62" transform="translate(1410 1182) rotate(-90)"><use href="#b"/><text class="i" x="12" y="16">UN8</text><text class="t" x="87" y="16">Kr</text><text class="a" x="12" y="38">33 ha</text><text class="f" x="120" y="38">40 ℓ/s</text></g>
<g id="b63" transform="translate(1411 1442) rotate(-90)"><use href="#b"/><text class="i" x="12" y="16">UN8</text><text class="t" x="87" y="16">Kn</text><text class="a" x="12" y="38">59 ha</text><text class="f" x="120" y="38">72 ℓ/s</text></g>
<g id="b64" transform="translate(1496 1442) rotate(-90)"><use href="#b"/><text class="i" x="12" y="16">UN9</text><text class="t" x="87" y="16">Kn</text><text class="a" x="12" y="38">93 ha</text><text class="f" x="120" y="38">113 ℓ/s</text></g>
<g id="b65" transform="translate(1602 1181) rotate(-90)"><use href="#b"/><text class="i" x="12" y="16">UN10</text><text class="t" x="87" y="16">Kr</text><text class="a" x="12" y="38">61 ha</text><text class="f" x="120" y="38">74 ℓ/s</text></g>
<g id="b66" transform="translate(1604 1440) rotate(-90)"><use href="#b"/><text class="i" x="12" y="16">UN10</text><text class="t" x="87" y="16">Kn</text><text class="a" x="12" y="38">15 ha</text><text class="f" x="120" y="38">18 ℓ/s</text></g>
<g id="b67" transform="translate(1686 1180) rotate(-90)"><use href="#b"/><text class="i" x="12" y="16">UN11</text><text class="t" x="87" y="16">Kr.Kr</text><text class="a" x="12" y="38">99 ha</text><text class="f" x="120" y="38">120 ℓ/s</text></g>
<g id="b68" transform="translate(1815 1180) rotate(-90)"><use href="#b"/><text class="i" x="12" y="16">UN11</text><text class="t" x="87" y="16">Kr. Kn</text><text class="a" x="12" y="38">32 ha</text><text class="f" x="120" y="38">39 ℓ/s</text></g>
<g id="b69" transform="translate(1901 1179) rotate(-90)"><use href="#b"/><text class="i" x="12" y="16">UN12</text><text class="t" x="87" y="16">Kr</text><text class="a" x="12" y="38">25 ha</text><text class="f" x="120" y="38">30 ℓ/s</text></g>
<g id="b70" transform="translate(1838 1438) rotate(-90)"><use href="#b"/><text class="i" x="12" y="16">UN12</text><text class="t" x="87" y="16">Kn</text><text class="a" x="12" y="38">23 ha</text><text class="f" x="120" y="38">28 ℓ/s</text></g>
<g id="b71" transform="translate(1839 1679) rotate(-90)"><use href="#b"/><text class="i" x="12" y="16">UN4-1</text><text class="t" x="87" y="16">Kn</text><text class="a" x="12" y="38">38 ha</text><text class="f" x="120" y="38">46 ℓ/s</text></g>
<g id="b72" transform="translate(1906 1679) rotate(-90)"><use href="#b"/><text class="i" x="12" y="16">UN4-1</text><text class="t" x="87" y="16">Tn</text><text class="a" x="12" y="38">81 ha</text><text class="f" x="120" y="38">99 ℓ/s</text></g>
<g id="b73" transform="translate(1970 1678) rotate(-90)"><use href="#b"/><text class="i" x="12" y="16">UN4-1</text><text class="t" x="87" y="16">Kr</text><text class="a" x="12" y="38">90 ha</text><text class="f" x="120" y="38">109 ℓ/s</text></g>
<g id="b74" transform="translate(2135 1177) rotate(-90)"><use href="#b"/><text class="i" x="12" y="16">UN13</text><text class="t" x="87" y="16">Kr</text><text class="a" x="12" y="38">29 ha</text><text class="f" x="120" y="38">35 ℓ/s</text></g>
<g id="b75" transform="translate(2010 1436) rotate(-90)"><use href="#b"/><text class="i" x="12" y="16">UN13</text><text class="t" x="87" y="16">Kn.Kn.</text><text class="a" x="12" y="38">87 ha</text><text class="f" x="120" y="38">106 ℓ/s</text></g>
<g id="b76" transform="translate(2075 1435) rotate(-90)"><use href="#b"/><text class="i" x="12" y="16">UN13</text><text class="t" x="87" y="16">Kn. Kr</text><text class="a" x="12" y="38">63 ha</text><text class="f" x="120" y="38">77 ℓ/s</text></g>
<g id="b77" transform="translate(2373 1433) rotate(-90)"><use href="#b"/><text class="i" x="12" y="16">UN5-2</text><text class="t" x="87" y="16">Kr</text><text class="a" x="12" y="38">122 ha</text><text class="f" x="120" y="38">148 ℓ/s</text></g>
<g id="b78" transform="translate(2376 1672) rotate(-90)"><use href="#b"/><text class="i" x="12" y="16">UN5-2</text><text class="t" x="87" y="16">Kn</text><text class="a" x="12" y="38">57 ha</text><text class="f" x="120" y="38">69 ℓ/s</text></g>
<g id="b79" transform="translate(2139 1675) rotate(-90)"><use href="#b"/><text class="i" x="12" y="16">UN5-1</text><text class="t" x="87" y="16">Kn</text><text class="a" x="12" y="38">40 ha</text><text class="f" x="120" y="38">49 ℓ/s</text></g>
<g id="b80" transform="translate(2246 1176) rotate(-90)"><use href="#b"/><text class="i" x="12" y="16">UN14</text><text class="t" x="87" y="16">Kr</text><text class="a" x="12" y="38">93 ha</text><text class="f" x="120" y="38">113 ℓ/s</text></g>
<g id="b81" transform="translate(2328 1176) rotate(-90)"><use href="#b"/><text class="i" x="12" y="16">UN15</text><text class="t" x="87" y="16">Kr</text><text class="a" x="12" y="38">39 ha</text><text class="f" x="120" y="38">47 ℓ/s</text></g>
<g id="b82" transform="translate(2436 1174) rotate(-90)"><use href="#b"/><text class="i" x="12" y="16">UN16</text><text class="t" x="87" y="16">Kr. Kr</text><text class="a" x="12" y="38">15 ha</text><text class="f" x="120" y="38">18 ℓ/s</text></g>
<g id="b83" transform="translate(2567 1173) rotate(-90)"><use href="#b"/><text class="i" x="12" y="16">UN16</text><text class="t" x="87" y="16">Kr. Kn</text><text class="a" x="12" y="38">25 ha</text><text class="f" x="120" y="38">30 ℓ/s</text></g>
<g id="b84" transform="translate(2692 1173) rotate(-90)"><use href="#b"/><text class="i" x="12" y="16">UN17</text><text class="t" x="87" y="16">Kr</text><text class="a" x="12" y="38">11 ha</text><text class="f" x="120" y="38">13 ℓ/s</text></g>
<g id="b85" transform="translate(2694 1429) rotate(-90)"><use href="#b"/><text class="i" x="12" y="16">UN17</text><text class="t" x="87" y="16">Kn</text><text class="a" x="12" y="38">33 ha</text><text class="f" x="120" y="38">40 ℓ/s</text></g>
<g id="b86" transform="translate(2820 1172) rotate(-90)"><use href="#b"/><text class="i" x="12" y="16">UN18</text><text class="t" x="87" y="16">Kr</text><text class="a" x="12" y="38">64 ha</text><text class="f" x="120" y="38">78 ℓ/s</text></g>
<g id="b87" transform="translate(2822 1428) rotate(-90)"><use href="#b"/><text class="i" x="12" y="16">UN18</text><text class="t" x="87" y="16">Kn</text><text class="a" x="12" y="38">99 ha</text><text class="f" x="120" y="38">120 ℓ/s</text></g>
<g id="b88" transform="translate(2631 878) rotate(-90)"><use href="#b"/><text class="i" x="12" y="16">UN6-1</text><text class="t" x="87" y="16">Kr</text><text class="a" x="12" y="38">135 ha</text><text class="f" x="120" y="38">164 ℓ/s</text></g>
<g id="b89" transform="translate(2629 1145) rotate(-90)"><use href="#b"/><text class="i" x="12" y="16">UN6-1</text><text class="t" x="87" y="16">Kn</text><text class="a" x="12" y="38">120 ha</text><text class="f" x="120" y="38">146 ℓ/s</text></g>
<g id="b90" transform="translate(2756 874) rotate(-90)"><use href="#b"/><text class="i" x="12" y="16">UN6-2</text><text class="t" x="87" y="16">Kr</text><text class="a" x="12" y="38">28 ha</text><text class="f" x="120" y="38">34 ℓ/s</text></g>
<g id="b91" transform="translate(2756 1144) rotate(-90)"><use href="#b"/><text class="i" x="12" y="16">UN6-2</text><text class="t" x="87" y="16">Kn</text><text class="a" x="12" y="38">54 ha</text><text class="f" x="120" y="38">66 ℓ/s</text></g>
<g id="b92" transform="translate(309 1472) rotate(-90)"><use href="#b"/><text class="i" x="12" y="16">UN1-1</text><text class="t" x="87" y="16">Kr</text><text class="a" x="12" y="38">48 ha</text><text class="f" x="120" y="38">59 ℓ/s</text></g>
<g id="b93" transform="translate(398 1470) rotate(-90)"><use href="#b"/><text class="i" x="12" y="16">UN1-2</text><text class="t" x="87" y="16">Kr</text><text class="a" x="12" y="38">16 ha</text><text class="f" x="120" y="38">19 ℓ/s</text></g>
<g id="b94" transform="translate(486 1469) rotate(-90)"><use href="#b"/><text class="i" x="12" y="16">UN1-3</text><text class="t" x="87" y="16">Kr</text><text class="a" x="12" y="38">29 ha</text><text class="f" x="120" y="38">35 ℓ/s</text></g>
<g id="b95" transform="translate(174 1713) rotate(-90)"><use href="#b"/><text class="i" x="52" y="16">NEK1-1</text><text class="a" x="12" y="38">10 ha</text><text class="f" x="120" y="38">11 ℓ/s</text></g>
<g id="b96" transform="translate(332 1711) rotate(-90)"><use href="#b"/><text class="i" x="52" y="16">NEK1-2</text><text class="a" x="12" y="38">10 ha</text><text class="f" x="120" y="38">11 ℓ/s</text></g>
<g id="b97" transform="translate(463 1710) rotate(-90)"><use href="#b"/><text class="i" x="52" y="16">NEK1-3</text><text class="a" x="12" y="38">53 ha</text><text class="f" x="120" y="38">63 ℓ/s</text></g>
<g id="b98" transform="translate(592 1710) rotate(-90)"><use href="#b"/><text class="i" x="52" y="16">NEK1-4</text><text class="a" x="12" y="38">18 ha</text><text class="f" x="120" y="38">23 ℓ/s</text></g>
</svg>
